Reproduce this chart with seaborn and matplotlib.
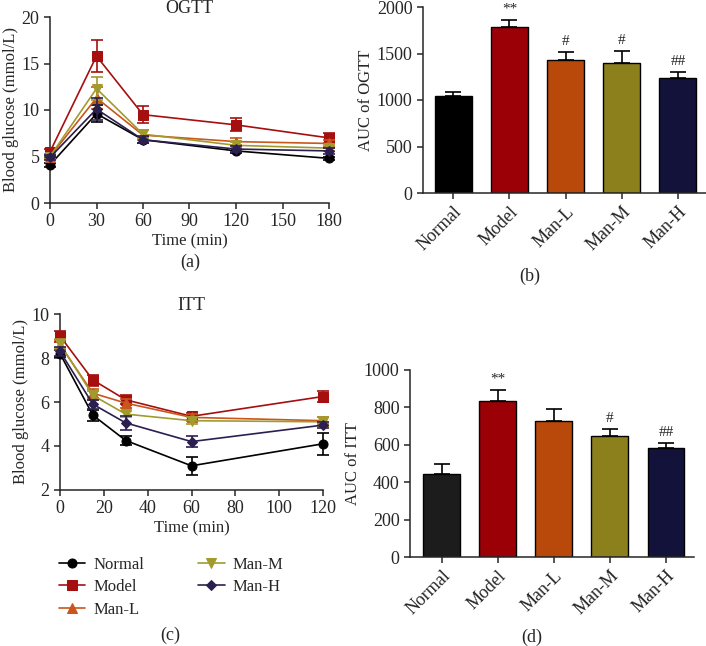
import numpy as np
import matplotlib
matplotlib.use("Agg")
import matplotlib.pyplot as plt
import seaborn as sns

# Groups and colours
groups = ["Normal", "Model", "Man-L", "Man-M", "Man-H"]
bar_colors = ["#000000", "#9b0006", "#b9490b", "#8c801d", "#12123a"]
bar_colors_itt = ["#1c1c1c", "#9b0006", "#b9490b", "#8c801d", "#12123a"]
line_colors = ["#000000", "#a50f0f", "#c9561c", "#a39a2e", "#2b1f4f"]
markers = ["o", "s", "^", "v", "D"]

# OGTT time course
ogtt_time = [0, 30, 60, 120, 180]
ogtt_mean = {
    "Normal": [4.1, 9.6, 6.8, 5.6, 4.8],
    "Model": [5.5, 15.8, 9.5, 8.4, 7.0],
    "Man-L": [5.0, 11.3, 7.3, 6.6, 6.4],
    "Man-M": [5.0, 12.3, 7.4, 6.2, 5.9],
    "Man-H": [4.9, 10.1, 6.8, 5.8, 5.6],
}
ogtt_err = {
    "Normal": [0.2, 0.9, 0.3, 0.2, 0.2],
    "Model": [0.3, 1.7, 0.9, 0.7, 0.5],
    "Man-L": [0.3, 1.2, 0.5, 0.4, 0.4],
    "Man-M": [0.3, 1.2, 0.4, 0.4, 0.3],
    "Man-H": [0.3, 1.2, 0.4, 0.3, 0.3],
}

# ITT time course
itt_time = [0, 15, 30, 60, 120]
itt_mean = {
    "Normal": [8.2, 5.4, 4.25, 3.1, 4.1],
    "Model": [9.0, 7.0, 6.1, 5.35, 6.25],
    "Man-L": [8.6, 6.4, 5.95, 5.3, 5.15],
    "Man-M": [8.65, 6.3, 5.45, 5.15, 5.1],
    "Man-H": [8.3, 5.9, 5.05, 4.2, 4.95],
}
itt_err = {
    "Normal": [0.15, 0.25, 0.2, 0.4, 0.5],
    "Model": [0.25, 0.25, 0.2, 0.15, 0.25],
    "Man-L": [0.2, 0.2, 0.2, 0.15, 0.15],
    "Man-M": [0.2, 0.2, 0.15, 0.15, 0.2],
    "Man-H": [0.2, 0.2, 0.3, 0.25, 0.15],
}

# AUC bars
auc_ogtt = [1040, 1780, 1430, 1395, 1240]
auc_ogtt_err = [50, 80, 85, 130, 60]
sig_ogtt = ["", "**", "#", "#", "##"]
auc_itt = [445, 835, 725, 645, 583]
auc_itt_err = [50, 60, 65, 40, 25]
sig_itt = ["", "**", "", "#", "##"]

sns.set_style("ticks")
plt.rcParams["font.family"] = ["Liberation Serif", "DejaVu Serif"]
plt.rcParams["font.size"] = 13
plt.rcParams["axes.labelsize"] = 12
plt.rcParams["xtick.labelsize"] = 13
plt.rcParams["ytick.labelsize"] = 13
plt.rcParams["axes.linewidth"] = 1.1
plt.rcParams["xtick.major.width"] = 1.1
plt.rcParams["ytick.major.width"] = 1.1
plt.rcParams["xtick.major.size"] = 4
plt.rcParams["ytick.major.size"] = 4
plt.rcParams["axes.labelpad"] = 2

W, H = 706, 646
fig = plt.figure(figsize=(W / 100, H / 100), dpi=100)


def box(left, top, right, bottom):
    return [left / W, 1 - bottom / H, (right - left) / W, (bottom - top) / H]


def line_panel(ax, times, means, errs):
    for g, c, m in zip(groups, line_colors, markers):
        sns.lineplot(x=times, y=means[g], ax=ax, color=c, marker=m,
                     markersize=6.5 if m != "D" else 5.5, markeredgecolor=c,
                     linewidth=1.2, label=g, clip_on=False, zorder=3)
        ax.errorbar(times, means[g], yerr=errs[g], fmt="none", ecolor=c,
                    elinewidth=1.2, capsize=4, capthick=1.2, clip_on=False, zorder=3)
    sns.despine(ax=ax)


def bar_panel(ax, vals, errs, colors, sigs, ylabel, ymax, step):
    sns.barplot(x=groups, y=vals, hue=groups, palette=colors, legend=False,
                ax=ax, width=0.66, edgecolor="black", linewidth=1.0, saturation=1)
    ax.errorbar(range(len(groups)), vals, yerr=[np.zeros(len(vals)), errs],
                fmt="none", ecolor="black", elinewidth=1.2, capsize=6, capthick=1.2,
                zorder=0)
    for i, s in enumerate(sigs):
        if s:
            ax.annotate(s, (i, vals[i] + errs[i]), xytext=(0, 3),
                        textcoords="offset points", ha="center", va="bottom",
                        fontsize=11, annotation_clip=False)
    ax.set_ylim(0, ymax)
    ax.set_yticks(np.arange(0, ymax + 1, step))
    ax.set_ylabel(ylabel)
    ax.set_xlabel("")
    ax.tick_params(axis="x", labelrotation=45)
    for lab in ax.get_xticklabels():
        lab.set_ha("right")
        lab.set_rotation_mode("anchor")
    sns.despine(ax=ax)


# (a) OGTT
ax_a = fig.add_axes(box(50, 17, 329, 203))
line_panel(ax_a, ogtt_time, ogtt_mean, ogtt_err)
ax_a.set_xlim(0, 180)
ax_a.set_ylim(0, 20)
ax_a.set_xticks([0, 30, 60, 90, 120, 150, 180])
ax_a.set_yticks([0, 5, 10, 15, 20])
ax_a.set_xlabel("Time (min)")
ax_a.set_ylabel("Blood glucose (mmol/L)")
ax_a.set_title("OGTT", fontsize=13, pad=1)
ax_a.get_legend().remove()

# (b) AUC OGTT
ax_b = fig.add_axes(box(423, 7, 706, 193))
bar_panel(ax_b, auc_ogtt, auc_ogtt_err, bar_colors, sig_ogtt, "AUC of OGTT", 2000, 500)
ax_b.set_xlim(-0.54, 4.5)

# (c) ITT
ax_c = fig.add_axes(box(60, 314, 323, 490))
line_panel(ax_c, itt_time, itt_mean, itt_err)
ax_c.set_xlim(0, 120)
ax_c.set_ylim(2, 10)
ax_c.set_xticks([0, 20, 40, 60, 80, 100, 120])
ax_c.set_yticks([2, 4, 6, 8, 10])
ax_c.set_xlabel("Time (min)")
ax_c.set_ylabel("Blood glucose (mmol/L)")
ax_c.set_title("ITT", fontsize=13, pad=1)
handles, labels = ax_c.get_legend_handles_labels()
ax_c.get_legend().remove()
fig.legend(handles, labels, ncol=2, loc="upper left",
           bbox_to_anchor=(52 / W, 1 - 550 / H), frameon=False,
           handlelength=1.6, columnspacing=3.2, labelspacing=0.4,
           handletextpad=0.5, fontsize=12, borderaxespad=0)

# (d) AUC ITT
ax_d = fig.add_axes(box(410, 370, 694, 557))
bar_panel(ax_d, auc_itt, auc_itt_err, bar_colors_itt, sig_itt, "AUC of ITT", 1000, 200)
ax_d.set_xlim(-0.57, 4.5)

# panel letters
for lab, x, y in [("(a)", 190, 262), ("(b)", 530, 276), ("(c)", 170, 635), ("(d)", 532, 637)]:
    fig.text(x / W, 1 - y / H, lab, ha="center", va="center", fontsize=13)

fig.savefig("out.png", dpi=100)
